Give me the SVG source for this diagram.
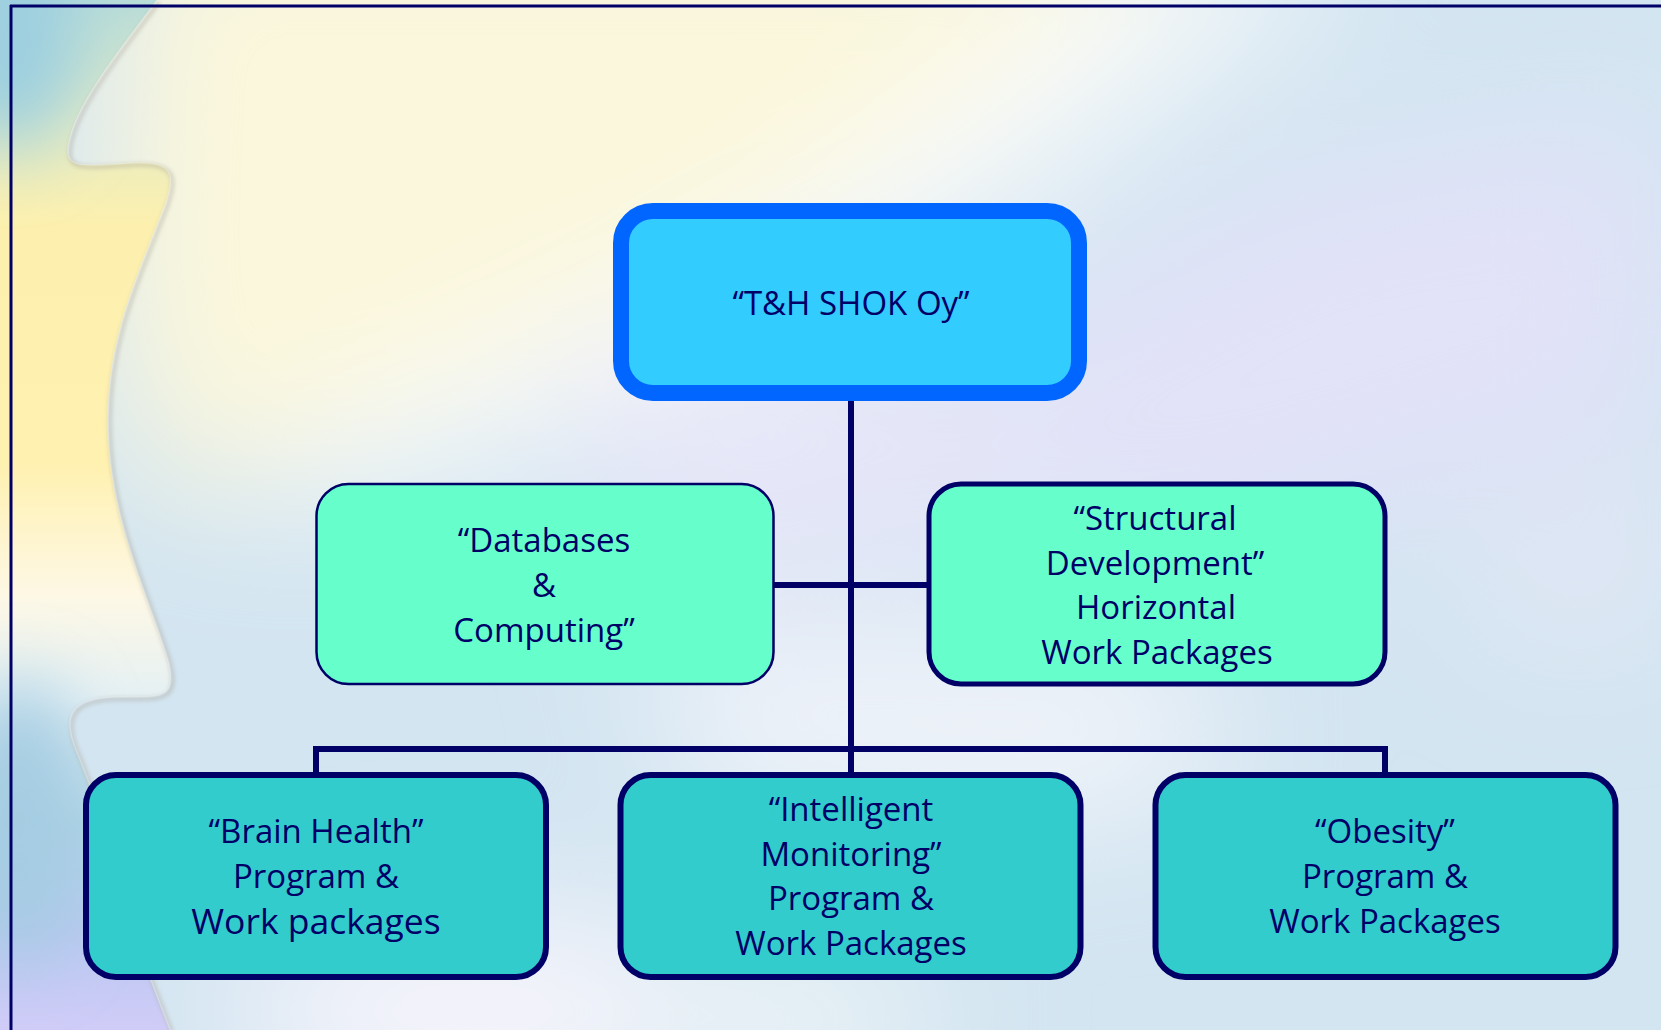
<svg xmlns="http://www.w3.org/2000/svg" width="1661" height="1030" viewBox="0 0 1661 1030">
<defs>
<style>
.lbl{font-family:"Open Sans","Liberation Sans",sans-serif;font-size:33px;fill:#000066;text-anchor:middle}
.conn{stroke:#000066;stroke-width:6;fill:none;stroke-linecap:square}
.mid{fill:#66FFCC;stroke:#000066}
.bot{fill:#33CCCC;stroke:#000066;stroke-width:6}
</style>
<filter id="b80" x="-50%" y="-50%" width="200%" height="200%"><feGaussianBlur stdDeviation="70"/></filter>
<filter id="b40" x="-50%" y="-50%" width="200%" height="200%"><feGaussianBlur stdDeviation="35"/></filter>
<filter id="b3" x="-20%" y="-20%" width="140%" height="140%"><feGaussianBlur stdDeviation="2"/></filter>
<clipPath id="leftc"><path d="M0,0 L157,0 C120,50 70,110 68,150 C66,170 90,165 130,163 C175,160 175,175 165,205 C140,270 105,340 108,430 C110,520 150,600 168,660 C178,700 160,697 120,697 C70,697 60,715 78,755 C100,810 125,880 145,965 L170,1030 L0,1030 Z"/></clipPath>
<linearGradient id="leftg" x1="0" y1="0" x2="0" y2="1">
<stop offset="0" stop-color="#b8dcd8"/>
<stop offset="0.12" stop-color="#e6ecc4"/>
<stop offset="0.22" stop-color="#fdf0ae"/>
<stop offset="0.45" stop-color="#fff1b0"/>
<stop offset="0.58" stop-color="#fdf8e6"/>
<stop offset="0.68" stop-color="#e4f0f4"/>
<stop offset="0.8" stop-color="#b0d4e6"/>
<stop offset="0.9" stop-color="#b8c8f0"/>
<stop offset="1" stop-color="#d0ccf8"/>
</linearGradient>
</defs>

<g id="background">
<rect x="0" y="0" width="1661" height="1030" fill="#d3e5f1"/>
<g filter="url(#b80)">
<polygon points="120,-100 1200,-100 1000,120 700,260 420,420 150,500 100,300" fill="#fbf7dc"/>
<polygon points="1150,-60 1380,-60 950,250 520,450 250,520 300,430 740,240" fill="#fbfcfc" opacity="0.9"/>
<polygon points="1300,180 1661,120 1661,420 1200,560 900,560 700,520 900,380" fill="#e2e2f8"/>
<polygon points="560,380 880,330 1100,420 900,560 650,600" fill="#e6e6f8"/>
<polygon points="650,640 1150,640 1250,760 1100,820 700,800" fill="#f2f4fa"/>
<ellipse cx="480" cy="1010" rx="250" ry="90" fill="#faf6fd"/>
<ellipse cx="780" cy="1020" rx="160" ry="70" fill="#eef4f7"/>
<polygon points="1450,560 1661,480 1661,620 1550,640" fill="#ece8f8" opacity="0.8"/>
</g>
<g clip-path="url(#leftc)">
<rect x="0" y="0" width="200" height="1030" fill="url(#leftg)"/>
<ellipse cx="10" cy="40" rx="70" ry="110" fill="#9ccfe0" filter="url(#b40)"/>
<ellipse cx="20" cy="820" rx="60" ry="140" fill="#a4cce2" filter="url(#b40)"/>
</g>
<path d="M157,0 C120,50 70,110 68,150 C66,170 90,165 130,163 C175,160 175,175 165,205 C140,270 105,340 108,430 C110,520 150,600 168,660 C178,700 160,697 120,697 C70,697 60,715 78,755 C100,810 125,880 145,965 L170,1030" fill="none" stroke="#aaa69a" stroke-width="3" opacity="0.6" filter="url(#b3)" transform="translate(2,2)"/>
<path d="M157,0 C120,50 70,110 68,150 C66,170 90,165 130,163 C175,160 175,175 165,205 C140,270 105,340 108,430 C110,520 150,600 168,660 C178,700 160,697 120,697 C70,697 60,715 78,755 C100,810 125,880 145,965 L170,1030" fill="none" stroke="#ffffff" stroke-width="1.5" opacity="0.25"/>
<line x1="11" y1="5" x2="11" y2="1030" stroke="#000066" stroke-width="3"/>
<line x1="10" y1="6" x2="1661" y2="6" stroke="#000066" stroke-width="3"/>
</g>

<g id="connectors">
<line class="conn" x1="851" y1="400" x2="851" y2="772"/>
<line class="conn" x1="774" y1="585" x2="927" y2="585"/>
<polyline class="conn" points="316,773 316,749 1385,749 1385,773"/>
</g>

<g id="node-top">
<rect x="621" y="211" width="458" height="182" rx="32" ry="32" fill="#33CCFF" stroke="#0066FF" stroke-width="16"/>
<text class="lbl" x="851" y="315">“T&amp;H SHOK Oy”</text>
</g>

<g id="node-databases">
<rect class="mid" x="316.5" y="484" width="457" height="200" rx="32" ry="32" stroke-width="2.5"/>
<text class="lbl" x="544" y="552">“Databases</text>
<text class="lbl" x="544" y="597">&amp;</text>
<text class="lbl" x="544" y="642">Computing”</text>
</g>

<g id="node-structural">
<rect class="mid" x="929" y="484" width="456" height="200" rx="32" ry="32" stroke-width="5"/>
<text class="lbl" x="1155" y="530">“Structural</text>
<text class="lbl" x="1155" y="575">Development”</text>
<text class="lbl" x="1156" y="619">Horizontal</text>
<text class="lbl" x="1157" y="664">Work Packages</text>
</g>

<g id="node-brain">
<rect class="bot" x="86" y="775" width="460" height="202" rx="30" ry="30"/>
<text class="lbl" x="316" y="843">“Brain Health”</text>
<text class="lbl" x="316" y="888">Program &amp;</text>
<text class="lbl" x="316" y="934" style="font-size:35.5px">Work packages</text>
</g>

<g id="node-intelligent">
<rect class="bot" x="620.5" y="775" width="460" height="202" rx="30" ry="30"/>
<text class="lbl" x="851" y="821">“Intelligent</text>
<text class="lbl" x="851" y="866">Monitoring”</text>
<text class="lbl" x="851" y="910">Program &amp;</text>
<text class="lbl" x="851" y="955">Work Packages</text>
</g>

<g id="node-obesity">
<rect class="bot" x="1155.5" y="775" width="460" height="202" rx="30" ry="30"/>
<text class="lbl" x="1385" y="843">“Obesity”</text>
<text class="lbl" x="1385" y="888">Program &amp;</text>
<text class="lbl" x="1385" y="933">Work Packages</text>
</g>
</svg>
